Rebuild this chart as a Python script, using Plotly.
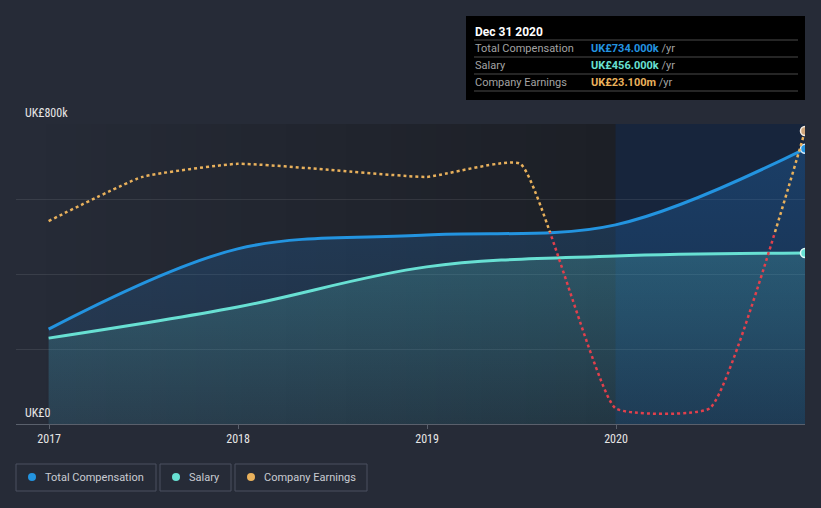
import plotly.graph_objects as go

# ---------------- data ----------------
comp_dates = ["2016-12-31", "2017-12-31", "2018-12-31", "2019-12-31", "2020-12-31"]
total_comp = [253000, 467000, 504000, 531000, 734000]
salary = [229000, 312000, 419000, 448000, 456000]

earn_dates = ["2016-12-31", "2017-06-30", "2017-12-31", "2018-06-30", "2018-12-31",
              "2019-06-30", "2019-12-31", "2020-06-30", "2020-12-31"]
earnings_m = [2.5, 12.6, 15.6, 14.2, 12.6, 15.6, -40.3, -40.3, 23.1]

year_ticks = ["2017-01-01", "2018-01-01", "2019-01-01", "2020-01-01"]
year_labels = ["2017", "2018", "2019", "2020"]
y_ticks = [0, 200000, 400000, 600000, 800000]
y_tick_text = {0: "UK£0", 800000: "UK£800k"}

legend_names = ["Total Compensation", "Salary", "Company Earnings"]
tooltip_title = "Dec 31 2020"
tooltip_values = ["UK£734.000k", "UK£456.000k", "UK£23.100m"]

# ---------------- style ----------------
W, H = 821, 508
ML, MR, MT, MB = 16, 16, 124, 84
PW, PH = W - ML - MR, H - MT - MB

BG = "rgb(38,43,55)"
BLUE = "#2394e0"
TEAL = "#68e0d3"
ORANGE = "#e9b15c"
RED = "#e2404c"
FONT = "Roboto, 'Open Sans', sans-serif"
TICKFONT = "'Roboto Condensed', 'Liberation Sans Narrow', 'DejaVu Sans Condensed', Roboto, sans-serif"

EARN_ZERO = 0.64      # paper fraction of earnings zero line
EARN_MIN, EARN_MAX = -43.9, 24.7


def px(xp):
    return (xp - ML) / PW


def py(yp):
    return (H - MB - yp) / PH


fig = go.Figure()

# compensation areas
fig.add_trace(go.Scatter(
    x=comp_dates, y=total_comp, mode="lines",
    line=dict(color=BLUE, width=3, shape="spline", smoothing=1),
    fill="tozeroy",
    fillgradient=dict(type="vertical",
                      colorscale=[[0, "rgba(35,120,200,0.10)"], [1, "rgba(35,120,200,0.32)"]],
                      start=0, stop=800000),
    hoverinfo="skip", showlegend=False))
fig.add_trace(go.Scatter(
    x=comp_dates, y=salary, mode="lines",
    line=dict(color=TEAL, width=3, shape="spline", smoothing=1),
    fill="tozeroy",
    fillgradient=dict(type="vertical",
                      colorscale=[[0, "rgba(100,220,210,0.08)"], [1, "rgba(100,220,210,0.30)"]],
                      start=0, stop=800000),
    hoverinfo="skip", showlegend=False))
fig.add_trace(go.Scatter(
    x=comp_dates[-1:], y=total_comp[-1:], mode="markers",
    marker=dict(size=9, color=BLUE, line=dict(color="#d8ebfb", width=1.5)),
    hoverinfo="skip", showlegend=False))
fig.add_trace(go.Scatter(
    x=comp_dates[-1:], y=salary[-1:], mode="markers",
    marker=dict(size=9, color=TEAL, line=dict(color="#e0fbf8", width=1.5)),
    hoverinfo="skip", showlegend=False))

# earnings: red part (below zero) and orange part (above zero), clipped by domains
fig.add_trace(go.Scatter(
    x=earn_dates, y=earnings_m, mode="lines", yaxis="y3",
    line=dict(color=RED, width=2.5, dash="dot", shape="spline", smoothing=0.4),
    hoverinfo="skip", showlegend=False))
fig.add_trace(go.Scatter(
    x=earn_dates, y=earnings_m, mode="lines", yaxis="y4",
    line=dict(color=ORANGE, width=2.5, dash="dot", shape="spline", smoothing=0.4),
    hoverinfo="skip", showlegend=False))
fig.add_trace(go.Scatter(
    x=earn_dates[-1:], y=earnings_m[-1:], mode="markers", yaxis="y4",
    marker=dict(size=9, color="#cfa57a", line=dict(color="#f4ece2", width=1.5)),
    hoverinfo="skip", showlegend=False))

shapes = []
# background gradient of plot area up to 2020
N = 40
c0, c1 = (38, 43, 55), (28, 31, 38)
x_start, x_end = px(16), px(616)
for i in range(N):
    t = i / (N - 1)
    col = tuple(round(c0[k] + (c1[k] - c0[k]) * t) for k in range(3))
    shapes.append(dict(type="rect", xref="paper", yref="paper",
                       x0=x_start + (x_end - x_start) * i / N,
                       x1=x_start + (x_end - x_start) * (i + 1) / N + 0.001,
                       y0=0, y1=1, fillcolor="rgb(%d,%d,%d)" % col,
                       line=dict(width=0), layer="below"))
# highlighted last-year band
shapes.append(dict(type="rect", xref="x", yref="paper",
                   x0=comp_dates[-2], x1=comp_dates[-1], y0=0, y1=1,
                   fillcolor="rgb(23,37,60)", line=dict(width=0), layer="below"))

annotations = []
# y labels
for v, txt in y_tick_text.items():
    annotations.append(dict(xref="paper", yref="y", x=px(23), y=v, text=txt,
                            xanchor="left", yanchor="bottom", yshift=2, showarrow=False,
                            font=dict(family=TICKFONT, size=12, color="#e6e6e6")))

# tooltip box
shapes.append(dict(type="rect", xref="paper", yref="paper",
                   x0=px(466), x1=px(805), y0=py(100), y1=py(16),
                   fillcolor="#000000", line=dict(width=0), layer="above"))
for yl in [40, 57, 74, 91]:
    shapes.append(dict(type="line", xref="paper", yref="paper",
                       x0=px(474), x1=px(798), y0=py(yl), y1=py(yl),
                       line=dict(color="#4a4a4a", width=1), layer="above"))
annotations.append(dict(xref="paper", yref="paper", x=px(473), y=py(31.5), text="<b>%s</b>" % tooltip_title,
                        xanchor="left", yanchor="middle", showarrow=False,
                        font=dict(family=FONT, size=12, color="#ffffff")))
row_colors = [BLUE, TEAL, ORANGE]
for i, (name, val, col) in enumerate(zip(legend_names, tooltip_values, row_colors)):
    yc = 48.5 + 17 * i
    annotations.append(dict(xref="paper", yref="paper", x=px(473), y=py(yc), text=name,
                            xanchor="left", yanchor="middle", showarrow=False,
                            font=dict(family=FONT, size=11, color="#a3a3a3")))
    annotations.append(dict(xref="paper", yref="paper", x=px(589), y=py(yc),
                            text="<span style='color:%s'><b>%s</b></span> /yr" % (col, val),
                            xanchor="left", yanchor="middle", showarrow=False,
                            font=dict(family=FONT, size=11, color="#a3a3a3")))

# custom legend boxes
boxes = [(16, 156, 32, 44), (160, 231, 176, 188), (235, 367, 251, 263)]
for (bx0, bx1, dotx, tx), name, col in zip(boxes, legend_names, row_colors):
    shapes.append(dict(type="rect", xref="paper", yref="paper",
                       x0=px(bx0), x1=px(bx1), y0=py(491), y1=py(464),
                       fillcolor="rgba(0,0,0,0)", line=dict(color="#4b5160", width=1)))
    shapes.append(dict(type="circle", xref="paper", yref="paper",
                       x0=px(dotx - 4), x1=px(dotx + 4), y0=py(481), y1=py(473),
                       fillcolor=col, line=dict(width=0)))
    annotations.append(dict(xref="paper", yref="paper", x=px(tx - 1), y=py(477.5), text=name,
                            xanchor="left", yanchor="middle", showarrow=False,
                            font=dict(family=FONT, size=11, color="#c9ccd2")))

fig.update_layout(
    width=W, height=H, autosize=False,
    margin=dict(l=ML, r=MR, t=MT, b=MB, pad=0),
    paper_bgcolor=BG, plot_bgcolor="rgba(0,0,0,0)",
    showlegend=False, hovermode=False,
    shapes=shapes, annotations=annotations,
    xaxis=dict(type="date", range=["2016-10-29", "2020-12-31"], anchor="y",
               tickvals=year_ticks, ticktext=year_labels,
               showgrid=False, zeroline=False,
               showline=True, linecolor="#5a606c", linewidth=1,
               ticks="outside", ticklen=4, tickcolor="#5a606c",
               tickfont=dict(family=TICKFONT, size=12, color="#e6e6e6")),
    yaxis=dict(range=[0, 800000], tickvals=y_ticks, showticklabels=False,
               showgrid=True, gridcolor="rgba(255,255,255,0.09)", gridwidth=1,
               zeroline=False, showline=False, domain=[0, 1]),
    yaxis3=dict(range=[EARN_MIN, 0], domain=[0, EARN_ZERO], anchor="x", visible=False),
    yaxis4=dict(range=[0, EARN_MAX], domain=[EARN_ZERO, 1], anchor="x", visible=False),
)

fig.write_html("out.html", config={"displayModeBar": False},
               post_script="document.body.style.margin='0';document.body.style.padding='0';"
                           "document.body.style.background='%s';" % BG)
